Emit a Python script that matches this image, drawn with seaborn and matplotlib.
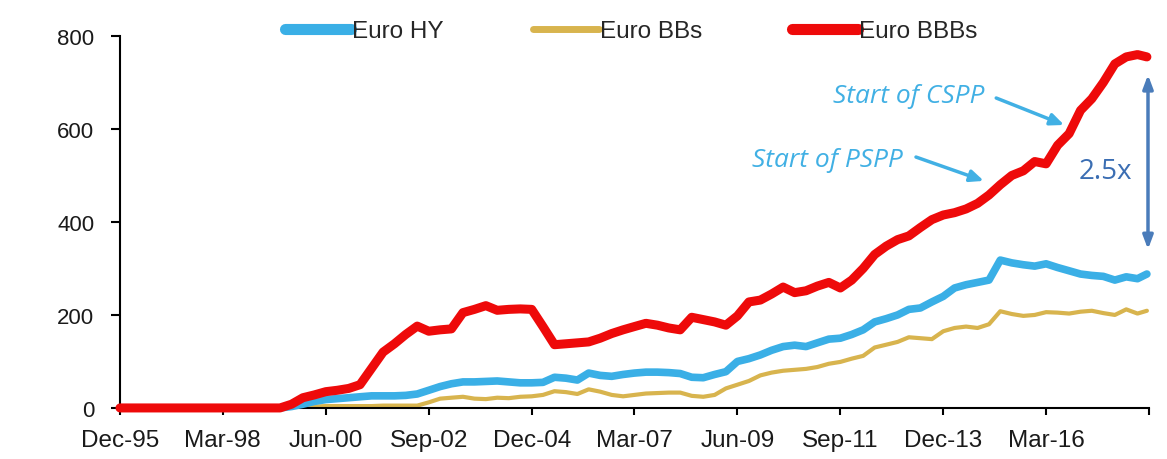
import pandas as pd
import matplotlib
matplotlib.use("Agg")
import matplotlib.pyplot as plt
import seaborn as sns

# ----------------------------------------------------------
# Data (quarterly from Dec-95, last point May-18)
# ----------------------------------------------------------

dates = list(pd.date_range("1995-12-01", "2018-03-01", freq="3MS")) + [pd.Timestamp("2018-05-15")]

euro_hy = [
    0, 0, 0, 0, 0, 0, 0, 0, 0, 0, 0, 0, 0, 0, 0,           # Dec-95 .. Jun-99
    3, 8, 14, 18, 20, 22, 24, 26, 26, 26, 27, 30,            # Sep-99 .. Jun-02
    38, 46, 52, 56, 56, 57, 58, 56, 54, 54,                  # Sep-02 .. Dec-04
    55, 66, 64, 60, 75, 70, 68, 72, 75, 77, 77, 76,          # Mar-05 .. Dec-07
    74, 66, 65, 72, 78, 100, 106, 114, 124, 132, 135, 132,   # Mar-08 .. Dec-10
    140, 148, 150, 158, 168, 185, 192, 200, 212, 215, 228, 240,  # Mar-11 .. Dec-13
    258, 265, 270, 275, 318, 312, 308, 305, 310, 302, 295, 288,  # Mar-14 .. Dec-16
    285, 283, 275, 282, 278, 288,                            # Mar-17 .. May-18
]

euro_bbs = [
    0, 0, 0, 0, 0, 0, 0, 0, 0, 0, 0, 0, 0, 0, 0,
    2, 3, 3, 4, 4, 4, 4, 4, 5, 5, 5, 5,
    12, 20, 22, 24, 20, 19, 22, 21, 24, 25,
    28, 36, 34, 30, 40, 35, 28, 25, 28, 31, 32, 33,
    33, 26, 24, 28, 42, 50, 58, 70, 76, 80, 82, 84,
    88, 95, 99, 106, 112, 130, 136, 142, 152, 150, 148, 165,
    172, 175, 172, 180, 208, 202, 198, 200, 206, 205, 203, 207,
    209, 204, 200, 212, 203, 209,
]

euro_bbbs = [
    0, 0, 0, 0, 0, 0, 0, 0, 0, 0, 0, 0, 0, 0, 0,
    8, 22, 28, 35, 38, 42, 50, 85, 120, 138, 158, 176,
    165, 168, 170, 205, 212, 220, 210, 212, 213, 212,
    175, 136, 138, 140, 142, 150, 160, 168, 175, 182, 178, 172,
    168, 195, 190, 185, 178, 198, 228, 232, 245, 260, 248, 252,
    262, 270, 258, 275, 300, 330, 348, 362, 370, 388, 405, 415,
    420, 428, 440, 458, 480, 500, 510, 530, 525, 565, 590, 640,
    665, 700, 740, 755, 760, 755,
]

series_names = ["Euro HY", "Euro BBs", "Euro BBBs"]
series_colors = ["#3AAFE6", "#D8B44E", "#EE0A0A"]

tick_dates = pd.date_range("1995-12-01", "2018-06-01", freq="27MS")
tick_labels = [d.strftime("%b-%y") for d in tick_dates[:-1]] + [""]

df = pd.DataFrame({"date": dates, "Euro HY": euro_hy, "Euro BBs": euro_bbs, "Euro BBBs": euro_bbbs})

# ----------------------------------------------------------
# Plot
# ----------------------------------------------------------

sns.set_style("white")
plt.rcParams["font.family"] = ["Liberation Sans", "DejaVu Sans"]

fig, ax = plt.subplots(figsize=(11.67, 4.6), dpi=100)
fig.subplots_adjust(left=0.1028, right=0.9846, bottom=0.111, top=0.9196)

widths = {"Euro HY": 5.5, "Euro BBs": 3, "Euro BBBs": 6.5}
zorders = {"Euro HY": 3, "Euro BBs": 2, "Euro BBBs": 4}
for name, color in zip(series_names, series_colors):
    sns.lineplot(data=df, x="date", y=name, ax=ax, color=color, lw=widths[name],
                 label=name, solid_capstyle="round", solid_joinstyle="round",
                 clip_on=False, zorder=zorders[name])

ax.set_xlim(pd.Timestamp("1995-12-01"), pd.Timestamp("2018-06-01"))
ax.set_ylim(0, 800)
ax.set_yticks([0, 200, 400, 600, 800])
ax.set_xticks(tick_dates)
ax.set_xticklabels(tick_labels)
ax.set_xlabel("")
ax.set_ylabel("")

sns.despine(ax=ax)
for side in ["left", "bottom"]:
    ax.spines[side].set_color("black")
    ax.spines[side].set_linewidth(1.5)
ax.tick_params(axis="both", which="major", direction="out", width=1.5,
               colors="black", labelcolor="#1a1a1a", left=True, bottom=True)
ax.tick_params(axis="y", length=6.5, pad=12, labelsize=16)
ax.tick_params(axis="x", length=5, pad=10, labelsize=17.5)

# legend on top
handles, labels = ax.get_legend_handles_labels()
ax.get_legend().remove()
leg = fig.legend(handles, labels, loc="center", bbox_to_anchor=(0.541, 0.93), ncol=3,
                 frameon=False, fontsize=17.5, handlelength=2.7, handletextpad=0.05,
                 columnspacing=3.7)
for line, lw in zip(leg.get_lines(), [8, 5, 8]):
    line.set_linewidth(lw)

# annotations
ann_color = "#41B0E4"
ax.text(0.761, 0.669, "Start of PSPP", transform=ax.transAxes, ha="right", va="center",
        fontsize=19, style="italic", color=ann_color, family="Open Sans")
ax.annotate("", xy=(0.842, 0.608), xytext=(0.771, 0.677), xycoords="axes fraction",
            textcoords="axes fraction",
            arrowprops=dict(arrowstyle="-|>,head_length=0.8,head_width=0.35", color=ann_color, lw=2.5))
ax.text(0.840, 0.839, "Start of CSPP", transform=ax.transAxes, ha="right", va="center",
        fontsize=19, style="italic", color=ann_color, family="Open Sans")
ax.annotate("", xy=(0.920, 0.758), xytext=(0.849, 0.836), xycoords="axes fraction",
            textcoords="axes fraction",
            arrowprops=dict(arrowstyle="-|>,head_length=0.8,head_width=0.35", color=ann_color, lw=2.5))

# 2.5x double arrow
ax.annotate("", xy=(0.999, 0.903), xytext=(0.999, 0.419), xycoords="axes fraction",
            textcoords="axes fraction",
            arrowprops=dict(arrowstyle="<|-|>,head_length=0.8,head_width=0.3", color="#4A7CBA", lw=2.5))
ax.text(0.958, 0.637, "2.5x", transform=ax.transAxes, ha="center", va="center",
        fontsize=20, color="#3B6EB3", family="Open Sans")

plt.savefig("out.png", dpi=100)
plt.close()
